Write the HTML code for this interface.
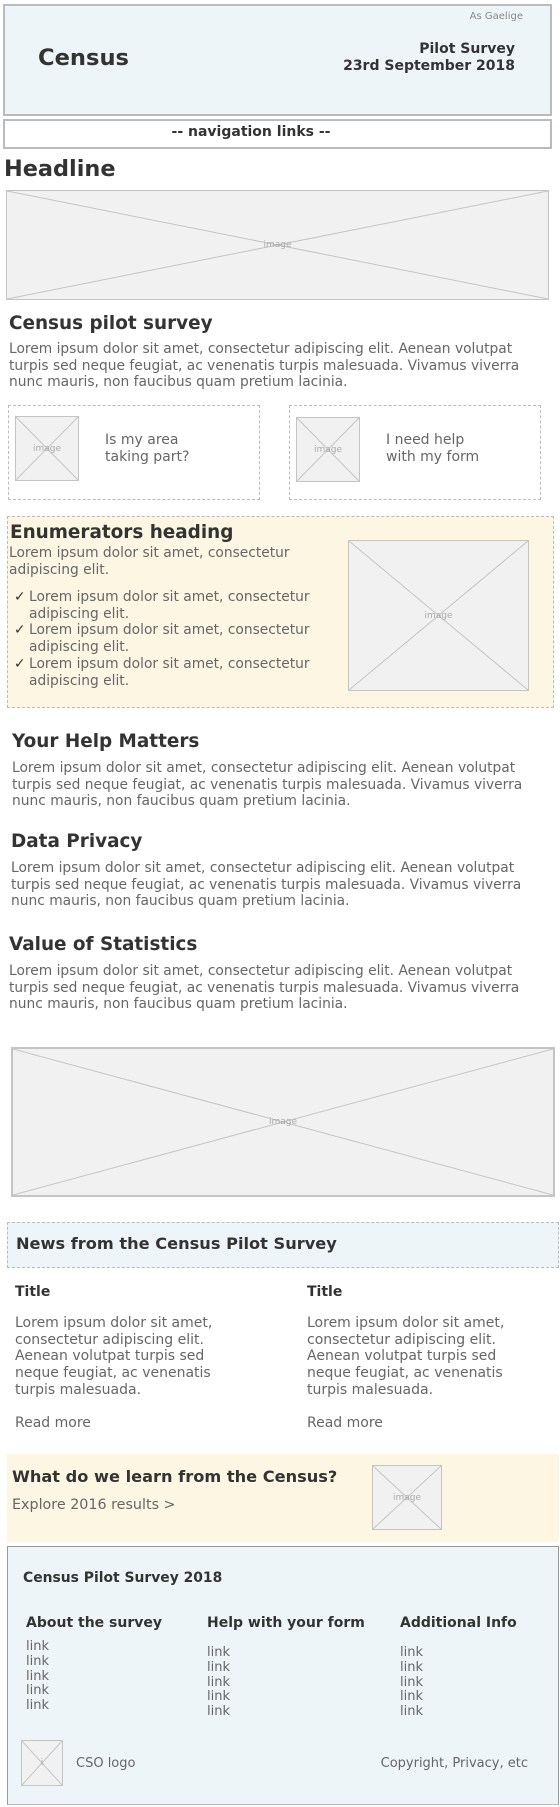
<!DOCTYPE html>
<html><head><meta charset="utf-8"><style>
*{margin:0;padding:0;box-sizing:border-box}
body{width:560px;height:1807px;position:relative;background:#fff;font-family:"DejaVu Sans","Liberation Sans",sans-serif;color:#666;overflow:hidden}
.a{position:absolute;white-space:nowrap}
.h{color:#333;font-weight:bold}
.p{font-size:13.8px;line-height:16.7px;color:#666}
.img{position:absolute;background:#f1f1f1;border:1px solid #c4c4c4}
.img svg{position:absolute;left:0;top:0;width:100%;height:100%}
.img span{position:absolute;left:0;right:0;top:50%;transform:translateY(-50%);text-align:center;font-size:9px;color:#aaa}
</style></head><body>

<div class="a" style="left:3px;top:4px;width:549px;height:112px;background:#eef5f9;border:2px solid #bbb"></div>
<div class="a" style="left:400px;top:10px;width:123px;text-align:right;font-size:10px;color:#888;line-height:14px">As Gaelige</div>
<div class="a h" style="left:38px;top:43px;font-size:22.6px;line-height:30px">Census</div>
<div class="a h" style="left:300px;top:41px;width:215px;text-align:right;font-size:14px;line-height:17px">Pilot Survey<br>23rd September 2018</div>

<div class="a" style="left:3px;top:119px;width:549px;height:30px;border:2px solid #bbb"></div>
<div class="a h" style="left:151px;top:124px;width:200px;text-align:center;font-size:14px;line-height:17px">-- navigation links --</div>

<div class="a h" style="left:4px;top:154px;font-size:22.4px;line-height:30px">Headline</div>

<div class="img" style="left:6px;top:190px;width:543px;height:110px"><svg viewBox="0 0 100 100" preserveAspectRatio="none"><line x1="0" y1="0" x2="100" y2="100" stroke="#c4c4c4" vector-effect="non-scaling-stroke"/><line x1="100" y1="0" x2="0" y2="100" stroke="#c4c4c4" vector-effect="non-scaling-stroke"/></svg><span>image</span></div>

<div class="a h" style="left:9px;top:311px;font-size:18.4px;line-height:26px">Census pilot survey</div>
<div class="a p" style="left:9px;top:341px">Lorem ipsum dolor sit amet, consectetur adipiscing elit. Aenean volutpat<br>turpis sed neque feugiat, ac venenatis turpis malesuada. Vivamus viverra<br>nunc mauris, non faucibus quam pretium lacinia.</div>

<div class="a" style="left:8px;top:405px;width:252px;height:95px;border:1px dashed #bbb"></div>
<div class="img" style="left:15px;top:416px;width:64px;height:65px"><svg viewBox="0 0 100 100" preserveAspectRatio="none"><line x1="0" y1="0" x2="100" y2="100" stroke="#c4c4c4" vector-effect="non-scaling-stroke"/><line x1="100" y1="0" x2="0" y2="100" stroke="#c4c4c4" vector-effect="non-scaling-stroke"/></svg><span>image</span></div>
<div class="a" style="left:105px;top:432px;font-size:14px;line-height:17px">Is my area<br>taking part?</div>
<div class="a" style="left:289px;top:405px;width:252px;height:95px;border:1px dashed #bbb"></div>
<div class="img" style="left:296px;top:417px;width:64px;height:65px"><svg viewBox="0 0 100 100" preserveAspectRatio="none"><line x1="0" y1="0" x2="100" y2="100" stroke="#c4c4c4" vector-effect="non-scaling-stroke"/><line x1="100" y1="0" x2="0" y2="100" stroke="#c4c4c4" vector-effect="non-scaling-stroke"/></svg><span>image</span></div>
<div class="a" style="left:386px;top:432px;font-size:14px;line-height:17px">I need help<br>with my form</div>

<div class="a" style="left:7px;top:516px;width:547px;height:192px;background:#fdf6e3;border:1px dashed #bbb"></div>
<div class="a h" style="left:10px;top:521px;font-size:18.4px;line-height:24px">Enumerators heading</div>
<div class="a p" style="left:9px;top:545px">Lorem ipsum dolor sit amet, consectetur<br>adipiscing elit.</div>
<div class="a p" style="left:14px;top:589px;color:#333">✓<br><br>✓<br><br>✓</div>
<div class="a p" style="left:29px;top:589px">Lorem ipsum dolor sit amet, consectetur<br>adipiscing elit.<br>Lorem ipsum dolor sit amet, consectetur<br>adipiscing elit.<br>Lorem ipsum dolor sit amet, consectetur<br>adipiscing elit.</div>
<div class="img" style="left:348px;top:540px;width:181px;height:151px"><svg viewBox="0 0 100 100" preserveAspectRatio="none"><line x1="0" y1="0" x2="100" y2="100" stroke="#c4c4c4" vector-effect="non-scaling-stroke"/><line x1="100" y1="0" x2="0" y2="100" stroke="#c4c4c4" vector-effect="non-scaling-stroke"/></svg><span>image</span></div>

<div class="a h" style="left:12px;top:730px;font-size:18.4px;line-height:24px">Your Help Matters</div>
<div class="a p" style="left:12px;top:760px">Lorem ipsum dolor sit amet, consectetur adipiscing elit. Aenean volutpat<br>turpis sed neque feugiat, ac venenatis turpis malesuada. Vivamus viverra<br>nunc mauris, non faucibus quam pretium lacinia.</div>

<div class="a h" style="left:11px;top:830px;font-size:18.4px;line-height:24px">Data Privacy</div>
<div class="a p" style="left:11px;top:860px">Lorem ipsum dolor sit amet, consectetur adipiscing elit. Aenean volutpat<br>turpis sed neque feugiat, ac venenatis turpis malesuada. Vivamus viverra<br>nunc mauris, non faucibus quam pretium lacinia.</div>

<div class="a h" style="left:9px;top:933px;font-size:18.4px;line-height:24px">Value of Statistics</div>
<div class="a p" style="left:9px;top:963px">Lorem ipsum dolor sit amet, consectetur adipiscing elit. Aenean volutpat<br>turpis sed neque feugiat, ac venenatis turpis malesuada. Vivamus viverra<br>nunc mauris, non faucibus quam pretium lacinia.</div>

<div class="img" style="left:11px;top:1047px;width:544px;height:150px;border-width:2px"><svg viewBox="0 0 100 100" preserveAspectRatio="none"><line x1="0" y1="0" x2="100" y2="100" stroke="#c4c4c4" vector-effect="non-scaling-stroke"/><line x1="100" y1="0" x2="0" y2="100" stroke="#c4c4c4" vector-effect="non-scaling-stroke"/></svg><span>image</span></div>

<div class="a" style="left:7px;top:1222px;width:552px;height:46px;background:#eef5f9;border:1px dashed #bbb"></div>
<div class="a h" style="left:16px;top:1234px;font-size:16.2px;line-height:20px">News from the Census Pilot Survey</div>

<div class="a h" style="left:15px;top:1283px;font-size:14px;line-height:18px">Title</div>
<div class="a p" style="left:15px;top:1315px;font-size:14px">Lorem ipsum dolor sit amet,<br>consectetur adipiscing elit.<br>Aenean volutpat turpis sed<br>neque feugiat, ac venenatis<br>turpis malesuada.</div>
<div class="a p" style="left:15px;top:1415px;font-size:14px">Read more</div>
<div class="a h" style="left:307px;top:1283px;font-size:14px;line-height:18px">Title</div>
<div class="a p" style="left:307px;top:1315px;font-size:14px">Lorem ipsum dolor sit amet,<br>consectetur adipiscing elit.<br>Aenean volutpat turpis sed<br>neque feugiat, ac venenatis<br>turpis malesuada.</div>
<div class="a p" style="left:307px;top:1415px;font-size:14px">Read more</div>

<div class="a" style="left:7px;top:1454px;width:552px;height:88px;background:#fdf6e3"></div>
<div class="a h" style="left:12px;top:1467px;font-size:16.2px;line-height:20px">What do we learn from the Census?</div>
<div class="a p" style="left:12px;top:1497px;font-size:14.3px">Explore 2016 results &gt;</div>
<div class="img" style="left:372px;top:1465px;width:70px;height:65px"><svg viewBox="0 0 100 100" preserveAspectRatio="none"><line x1="0" y1="0" x2="100" y2="100" stroke="#c4c4c4" vector-effect="non-scaling-stroke"/><line x1="100" y1="0" x2="0" y2="100" stroke="#c4c4c4" vector-effect="non-scaling-stroke"/></svg><span>image</span></div>

<div class="a" style="left:7px;top:1546px;width:552px;height:259px;background:#eef5f9;border:1px solid #999;border-bottom-color:#bbb"></div>
<div class="a h" style="left:23px;top:1569px;font-size:13.9px;line-height:18px">Census Pilot Survey 2018</div>
<div class="a h" style="left:26px;top:1614px;font-size:14px;line-height:18px">About the survey</div>
<div class="a h" style="left:207px;top:1614px;font-size:14px;line-height:18px">Help with your form</div>
<div class="a h" style="left:400px;top:1614px;font-size:14px;line-height:18px">Additional Info</div>
<div class="a p" style="left:26px;top:1640px;font-size:13px;line-height:14.8px">link<br>link<br>link<br>link<br>link</div>
<div class="a p" style="left:207px;top:1646px;font-size:13px;line-height:14.8px">link<br>link<br>link<br>link<br>link</div>
<div class="a p" style="left:400px;top:1646px;font-size:13px;line-height:14.8px">link<br>link<br>link<br>link<br>link</div>
<div class="img" style="left:21px;top:1740px;width:42px;height:46px"><svg viewBox="0 0 100 100" preserveAspectRatio="none"><line x1="0" y1="0" x2="100" y2="100" stroke="#c4c4c4" vector-effect="non-scaling-stroke"/><line x1="100" y1="0" x2="0" y2="100" stroke="#c4c4c4" vector-effect="non-scaling-stroke"/></svg><span>i</span></div>
<div class="a p" style="left:76px;top:1756px;font-size:13px">CSO logo</div>
<div class="a p" style="left:328px;top:1756px;width:200px;text-align:right;font-size:13px">Copyright, Privacy, etc</div>

</body></html>
